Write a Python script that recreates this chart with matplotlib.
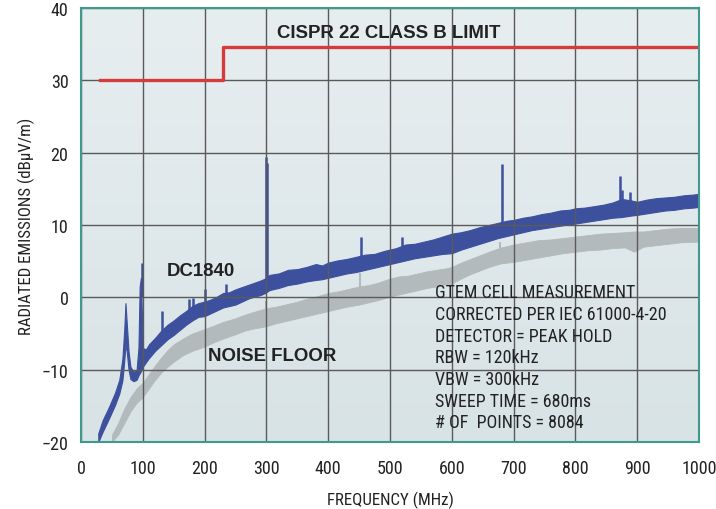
import matplotlib
matplotlib.use("Agg")
import matplotlib.pyplot as plt
import matplotlib.font_manager as fm
import numpy as np
from matplotlib.colors import LinearSegmentedColormap

# limit line (CISPR 22 class B)
limit_f = [30, 230, 230, 1000]
limit_db = [30, 30, 34.6, 34.6]

# DC1840 emissions band (lower / upper edge)
blue_f = [28, 35, 45, 55, 62, 67, 70, 72, 74, 77, 80, 85, 90, 93, 95, 97, 100, 105,
          110, 120, 130, 140, 150, 160, 170, 180, 190, 200, 210, 220, 230, 240, 250,
          260, 270, 280, 290, 298, 305, 320, 335, 350, 365, 380, 390, 400, 415, 430,
          445, 460, 475, 490, 500, 510, 525, 540, 555, 570, 585, 600, 615, 630, 645,
          660, 675, 690, 700, 715, 730, 745, 760, 775, 790, 800, 815, 830, 845, 860,
          875, 890, 900, 915, 930, 945, 960, 975, 990, 1000]
blue_lo = [-20.0, -18.6, -16.8, -14.9, -13.3, -11.5, -8.8, -6.5, -7.5, -10.0, -11.3,
           -11.6, -11.4, -10.8, -10.5, -10.2, -9.6, -9.0, -8.4, -7.4, -6.6, -5.8, -5.2,
           -4.5, -3.8, -3.2, -2.7, -2.6, -2.2, -1.8, -1.4, -1.2, -1.0, -0.6, -0.2, 0.1,
           0.3, 0.6, 1.0, 1.3, 1.7, 1.9, 2.2, 2.4, 2.5, 2.7, 3.0, 3.3, 3.5, 3.8, 4.1,
           4.4, 4.6, 4.8, 5.1, 5.4, 5.6, 5.8, 6.0, 6.1, 6.6, 7.0, 7.4, 7.8, 8.2, 8.5,
           8.7, 9.0, 9.3, 9.5, 9.7, 9.9, 10.1, 10.2, 10.4, 10.6, 10.8, 11.0, 11.1, 11.3,
           11.4, 11.6, 11.8, 12.0, 12.1, 12.3, 12.4, 12.5]
blue_hi = [-18.8, -17.0, -15.2, -13.2, -11.4, -8.5, -4.5, -0.8, -3.5, -7.5, -9.6,
           -10.3, -10.0, -7.0, 1.5, 2.7, -7.0, -7.2, -6.5, -5.6, -4.6, -3.8, -3.2, -2.5,
           -1.9, -1.2, -0.8, -0.6, -0.3, 0.1, 0.6, 0.7, 1.1, 1.4, 1.7, 2.0, 2.3, 2.6,
           3.1, 3.3, 3.8, 3.9, 4.2, 4.6, 4.4, 4.8, 5.1, 5.3, 5.6, 5.9, 6.0, 6.4, 6.6,
           6.8, 7.3, 7.4, 7.7, 8.0, 8.4, 8.8, 9.0, 9.3, 9.7, 10.0, 10.3, 10.6, 10.7,
           11.0, 11.2, 11.5, 11.7, 12.0, 12.1, 12.3, 12.4, 12.6, 12.8, 13.1, 13.6, 13.4,
           13.2, 13.5, 13.7, 13.8, 13.9, 14.1, 14.2, 14.3]

# narrow spikes on the DC1840 trace
spike_f = [98, 131, 175, 181, 200, 234, 253, 299.5, 301.5, 453, 519, 681, 872, 876, 888]
spike_base = [0, -4.6, -2.4, -2.2, -0.8, 0.4, 0.8, 2.0, 2.0, 5.5, 6.8, 9.8, 13.0, 13.0, 13.0]
spike_top = [4.7, -1.9, -0.3, -0.1, 1.2, 1.9, 1.0, 19.4, 18.5, 8.4, 8.3, 18.4, 16.8,
             14.8, 14.6]

# noise floor band
gray_f = [50, 60, 70, 80, 90, 100, 110, 120, 130, 140, 150, 165, 180, 200, 215, 230,
          250, 265, 280, 300, 315, 330, 350, 365, 380, 400, 415, 430, 450, 465, 480,
          500, 515, 530, 545, 560, 575, 590, 600, 615, 630, 645, 660, 680, 700, 720,
          740, 760, 780, 800, 820, 840, 860, 880, 895, 910, 930, 950, 970, 1000]
gray_lo = [-20.0, -19.0, -17.4, -15.8, -14.6, -13.8, -12.6, -11.4, -10.4, -9.6, -8.9,
           -8.0, -7.4, -6.8, -6.2, -5.7, -5.1, -4.6, -4.3, -4.0, -3.6, -3.3, -2.9, -2.6,
           -2.3, -1.9, -1.6, -1.3, -1.0, -0.7, -0.4, 0.1, 0.4, 0.7, 1.0, 1.3, 1.5, 1.8,
           1.9, 2.6, 3.2, 3.7, 4.2, 4.7, 4.9, 5.2, 5.5, 5.8, 6.1, 6.3, 6.5, 6.6, 6.8,
           6.9, 6.3, 7.0, 7.2, 7.4, 7.6, 7.7]
gray_hi = [-19.0, -17.4, -15.4, -13.8, -12.6, -11.8, -10.6, -9.4, -8.3, -7.3, -6.5,
           -5.7, -5.0, -4.4, -3.9, -3.4, -2.9, -2.4, -2.0, -1.5, -1.3, -1.0, -0.6, -0.2,
           0.1, 0.6, 0.8, 1.1, 1.5, 1.7, 2.0, 2.6, 2.9, 3.0, 3.3, 3.6, 3.8, 4.0, 4.2,
           4.8, 5.3, 5.8, 6.3, 6.9, 7.3, 7.6, 7.9, 8.0, 8.2, 8.4, 8.6, 8.8, 8.9, 9.0,
           9.1, 9.1, 9.3, 9.5, 9.6, 9.6]
gray_spike_f = [300, 451, 678]
gray_spike_base = [-2.0, 1.2, 6.5]
gray_spike_top = [-0.5, 3.4, 7.6]

notes = ["GTEM CELL MEASUREMENT",
         "CORRECTED PER IEC 61000-4-20",
         "DETECTOR = PEAK HOLD",
         "RBW = 120kHz",
         "VBW = 300kHz",
         "SWEEP TIME = 680ms",
         "# OF  POINTS = 8084"]


# pick a condensed sans face if there is one
def narrow_font(size):
    fonts = fm.fontManager.ttflist
    for want in ["Liberation Sans Narrow", "Roboto Condensed", "Open Sans Condensed",
                 "Noto Sans Condensed", "DejaVu Sans Condensed"]:
        for f in fonts:
            if f.name == want and f.style == "normal" and f.weight in (400, "normal"):
                return fm.FontProperties(fname=f.fname, size=size)
    for fam in ["Noto Sans", "DejaVu Sans", "Roboto", "Open Sans"]:
        for f in fonts:
            if (f.name == fam and f.style == "normal" and f.weight in (400, "normal")
                    and "ondensed" in str(f.stretch) and "extra" not in str(f.stretch)):
                return fm.FontProperties(fname=f.fname, size=size)
    return fm.FontProperties(family="Liberation Sans", size=size * 0.86)


tick_fp = narrow_font(13)
label_fp = narrow_font(12.2)
note_fp = narrow_font(13)

bold = ["Liberation Sans", "DejaVu Sans"]
ink = "#222222"

fig = plt.figure(figsize=(7.16, 5.10), dpi=100)
ax = fig.add_axes([0.1131, 0.1314, 0.8632, 0.851])

# background gradient
bg = LinearSegmentedColormap.from_list("bg", ["#d8e3e6", "#e7eef0"])
ax.imshow(np.linspace(0, 1, 256).reshape(-1, 1), cmap=bg, aspect="auto",
          extent=[0, 1000, -20, 40], origin="lower", zorder=0)

ax.fill_between(gray_f, gray_lo, gray_hi, color="#b3babc", lw=0.6, zorder=1)
ax.vlines(gray_spike_f, gray_spike_base, gray_spike_top, color="#b3babc", lw=1.5, zorder=1)

ax.grid(True, color="#5a5a5a", lw=1.0)
ax.set_axisbelow(False)
for gl in ax.get_xgridlines() + ax.get_ygridlines():
    gl.set_zorder(1.5)

ax.fill_between(blue_f, blue_lo, blue_hi, color="#3d509e", lw=0.8, zorder=2)
ax.vlines(spike_f, spike_base, spike_top, color="#3d509e", lw=1.8, zorder=2)

ax.plot(limit_f, limit_db, color="#d63a3c", lw=2.4, zorder=3)

ax.set_xlim(0, 1000)
ax.set_ylim(-20, 40)
ax.set_xticks(np.arange(0, 1001, 100))
ax.set_yticks(np.arange(-20, 41, 10))
ax.tick_params(length=0)
ax.tick_params(axis="y", pad=9)
ax.tick_params(axis="x", pad=12)
for lab in ax.get_xticklabels() + ax.get_yticklabels():
    lab.set_fontproperties(tick_fp)
    lab.set_color(ink)
for sp in ax.spines.values():
    sp.set_color("#3e9a8c")
    sp.set_linewidth(1.5)
    sp.set_zorder(4)

ax.set_xlabel("FREQUENCY (MHz)", fontproperties=label_fp, color=ink, labelpad=10)
ax.set_ylabel("RADIATED EMISSIONS (dBµV/m)", fontproperties=label_fp, color=ink,
              labelpad=5)

ax.text(317, 36.6, "CISPR 22 CLASS B LIMIT", family=bold, weight="bold", fontsize=13.4,
        color=ink, va="center", zorder=5)
ax.text(139, 3.7, "DC1840", family=bold, weight="bold", fontsize=13.4,
        color=ink, va="center", zorder=5)
ax.text(205, -8.0, "NOISE FLOOR", family=bold, weight="bold", fontsize=13.4,
        color=ink, va="center", zorder=5)
for i, line in enumerate(notes):
    ax.text(573, 0.7 - 3.0 * i, line, fontproperties=note_fp, color=ink,
            va="center", zorder=5)

fig.savefig("out.png", dpi=100)
